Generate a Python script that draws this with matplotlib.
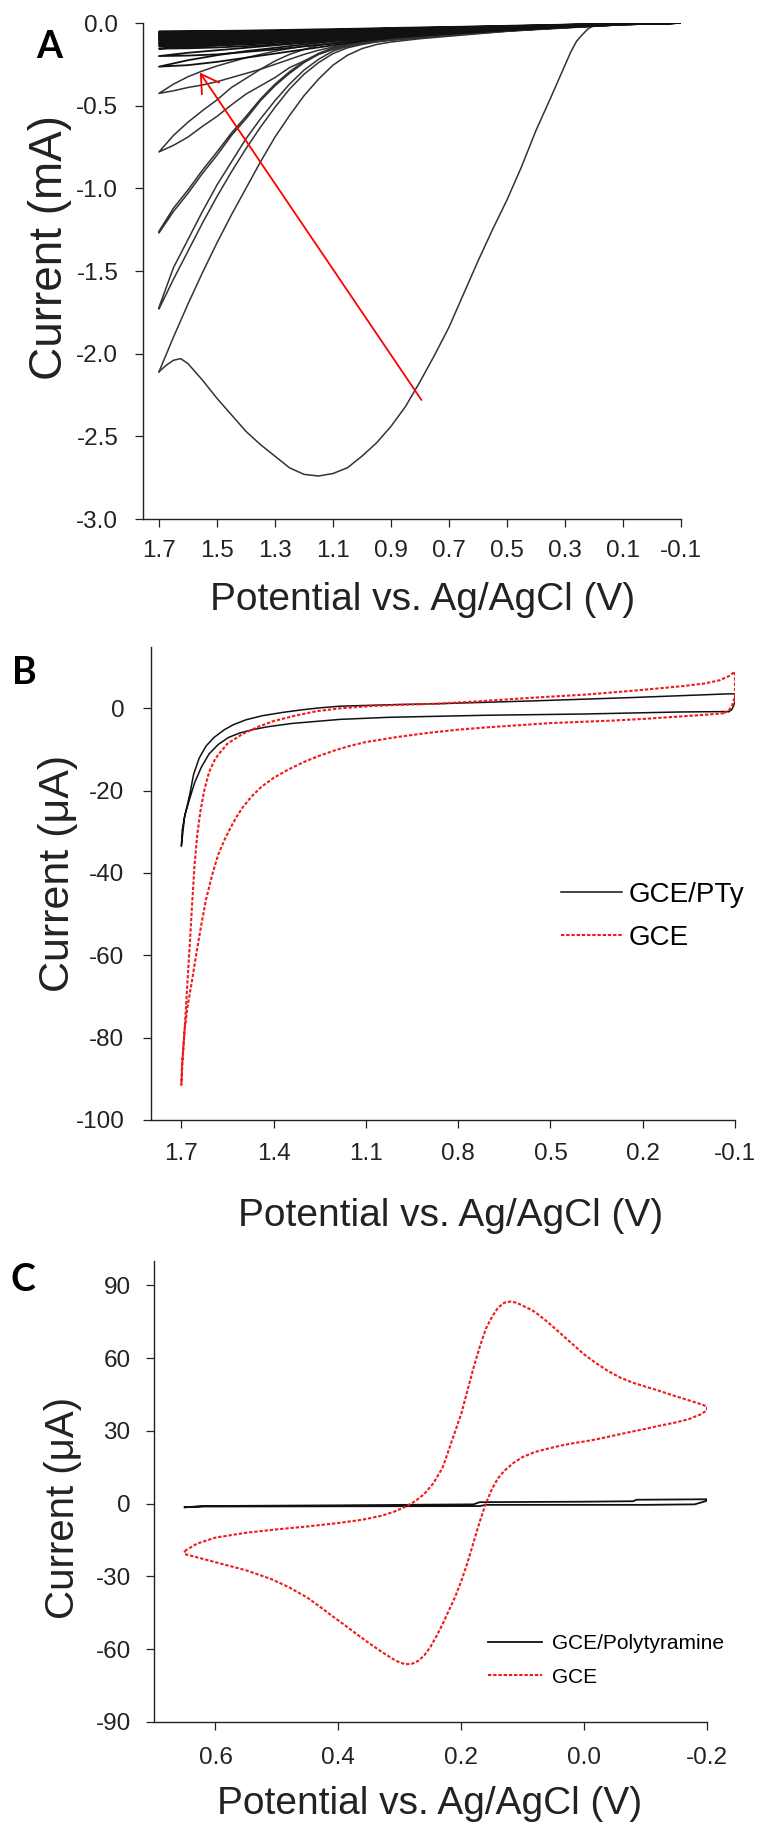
import matplotlib
matplotlib.use("Agg")
import matplotlib.pyplot as plt

plt.rcParams["font.family"] = ["Liberation Sans", "DejaVu Sans"]
plt.rcParams["axes.unicode_minus"] = False

# ---------------- panel A: repeated electropolymerisation cycles (mA) ----------------
a_first_E = [-0.10, 0.10, 0.15, 0.18, 0.20, 0.22, 0.24, 0.26, 0.28, 0.30, 0.325, 0.35, 0.40,
             0.45, 0.50, 0.55, 0.60, 0.65, 0.70, 0.75, 0.80, 0.85, 0.90, 0.95, 1.00, 1.05,
             1.10, 1.15, 1.20, 1.25, 1.30, 1.35, 1.40, 1.45, 1.50, 1.55, 1.60, 1.625, 1.65,
             1.675, 1.70]
a_first_I = [0.0, 0.0, 0.0, -0.005, -0.015, -0.035, -0.07, -0.11, -0.175, -0.255, -0.355,
             -0.455, -0.65, -0.87, -1.07, -1.25, -1.44, -1.64, -1.84, -2.01, -2.17, -2.32,
             -2.44, -2.54, -2.62, -2.69, -2.725, -2.74, -2.73, -2.69, -2.62, -2.55, -2.47,
             -2.37, -2.27, -2.16, -2.06, -2.03, -2.04, -2.07, -2.11]

a_fine_E = [1.70, 1.65, 1.60, 1.55, 1.50, 1.45, 1.40, 1.35, 1.30, 1.25, 1.20, 1.15, 1.10,
            1.05, 1.00, 0.95, 0.90, 0.80, 0.70, 0.50, 0.30, 0.10, -0.10]
a_first_return = [-2.11, -1.90, -1.70, -1.51, -1.33, -1.16, -1.00, -0.84, -0.69, -0.56, -0.44,
                  -0.34, -0.255, -0.195, -0.155, -0.13, -0.115, -0.095, -0.08, -0.05, -0.025,
                  -0.01, 0.0]
a_fine_upper = [
    [-1.72, -1.48, -1.31, -1.14, -0.98, -0.84, -0.70, -0.58, -0.47, -0.37, -0.285, -0.22,
     -0.17, -0.14, -0.12, -0.107, -0.098, -0.085, -0.07, -0.047, -0.028, -0.01, 0.0],
    [-1.26, -1.12, -1.01, -0.89, -0.78, -0.665, -0.565, -0.46, -0.37, -0.295, -0.232, -0.184,
     -0.15, -0.13, -0.116, -0.106, -0.097, -0.083, -0.068, -0.046, -0.027, -0.01, 0.0],
    [-0.78, -0.68, -0.60, -0.53, -0.465, -0.39, -0.335, -0.28, -0.23, -0.19, -0.16, -0.135,
     -0.12, -0.11, -0.10, -0.093, -0.088, -0.078, -0.065, -0.043, -0.025, -0.008, 0.0],
    [-0.426, -0.37, -0.325, -0.29, -0.26, -0.235, -0.21, -0.19, -0.17, -0.155, -0.14, -0.13,
     -0.12, -0.11, -0.10, -0.092, -0.085, -0.075, -0.063, -0.042, -0.024, -0.008, 0.0],
]
a_fine_lower = [
    [-1.73, -1.55, -1.38, -1.21, -1.05, -0.90, -0.76, -0.63, -0.51, -0.40, -0.31, -0.24,
     -0.185, -0.15, -0.13, -0.115, -0.105, -0.09, -0.075, -0.05, -0.03, -0.01, 0.0],
    [-1.27, -1.14, -1.03, -0.91, -0.80, -0.68, -0.58, -0.47, -0.38, -0.305, -0.24, -0.19,
     -0.155, -0.135, -0.12, -0.11, -0.10, -0.085, -0.07, -0.047, -0.028, -0.01, 0.0],
    [-0.78, -0.74, -0.69, -0.625, -0.565, -0.495, -0.43, -0.38, -0.33, -0.27, -0.23, -0.19,
     -0.16, -0.14, -0.125, -0.112, -0.102, -0.087, -0.072, -0.047, -0.027, -0.009, 0.0],
    [-0.426, -0.41, -0.39, -0.375, -0.355, -0.33, -0.305, -0.28, -0.25, -0.22, -0.19, -0.165,
     -0.145, -0.128, -0.115, -0.104, -0.095, -0.082, -0.069, -0.045, -0.026, -0.009, 0.0],
]

a_coarse_E = [1.70, 1.60, 1.50, 1.40, 1.30, 1.20, 1.10, 1.00, 0.90, 0.70, 0.50, 0.30, 0.10, -0.10]
a_coarse_upper = [
    [-0.264, -0.225, -0.195, -0.17, -0.15, -0.13, -0.11, -0.095, -0.08, -0.06, -0.04, -0.022, -0.007, 0.0],
    [-0.20, -0.18, -0.165, -0.15, -0.135, -0.12, -0.105, -0.09, -0.077, -0.058, -0.039, -0.021, -0.007, 0.0],
    [-0.155, -0.145, -0.135, -0.125, -0.113, -0.102, -0.09, -0.078, -0.068, -0.052, -0.036, -0.02, -0.006, 0.0],
    [-0.14, -0.133, -0.125, -0.116, -0.105, -0.095, -0.084, -0.073, -0.064, -0.049, -0.034, -0.019, -0.006, 0.0],
    [-0.13, -0.123, -0.116, -0.107, -0.098, -0.088, -0.078, -0.068, -0.06, -0.046, -0.032, -0.018, -0.006, 0.0],
    [-0.122, -0.116, -0.11, -0.102, -0.093, -0.084, -0.075, -0.065, -0.057, -0.044, -0.031, -0.017, -0.005, 0.0],
    [-0.115, -0.109, -0.103, -0.096, -0.088, -0.08, -0.071, -0.062, -0.054, -0.042, -0.03, -0.017, -0.005, 0.0],
    [-0.107, -0.102, -0.097, -0.09, -0.083, -0.075, -0.067, -0.059, -0.052, -0.04, -0.028, -0.016, -0.005, 0.0],
    [-0.10, -0.095, -0.09, -0.084, -0.077, -0.07, -0.063, -0.056, -0.049, -0.038, -0.027, -0.015, -0.005, 0.0],
    [-0.094, -0.09, -0.085, -0.08, -0.073, -0.066, -0.06, -0.053, -0.047, -0.036, -0.026, -0.014, -0.004, 0.0],
    [-0.088, -0.084, -0.08, -0.075, -0.069, -0.063, -0.057, -0.051, -0.045, -0.035, -0.025, -0.014, -0.004, 0.0],
    [-0.082, -0.079, -0.075, -0.07, -0.065, -0.06, -0.054, -0.048, -0.043, -0.033, -0.024, -0.013, -0.004, 0.0],
    [-0.077, -0.074, -0.07, -0.066, -0.061, -0.056, -0.051, -0.046, -0.041, -0.032, -0.023, -0.013, -0.004, 0.0],
    [-0.072, -0.069, -0.066, -0.062, -0.058, -0.053, -0.048, -0.043, -0.039, -0.03, -0.022, -0.012, -0.004, 0.0],
    [-0.067, -0.064, -0.061, -0.058, -0.054, -0.05, -0.046, -0.041, -0.037, -0.029, -0.021, -0.012, -0.004, 0.0],
    [-0.062, -0.06, -0.058, -0.055, -0.051, -0.047, -0.043, -0.039, -0.035, -0.027, -0.02, -0.011, -0.003, 0.0],
    [-0.058, -0.056, -0.054, -0.051, -0.048, -0.045, -0.041, -0.037, -0.033, -0.026, -0.019, -0.011, -0.003, 0.0],
    [-0.052, -0.05, -0.048, -0.046, -0.043, -0.04, -0.037, -0.034, -0.03, -0.024, -0.017, -0.01, -0.003, 0.0],
]
a_coarse_lower = [
    [-0.264, -0.255, -0.235, -0.21, -0.185, -0.16, -0.135, -0.11, -0.09, -0.066, -0.044, -0.025, -0.008, 0.0],
    [-0.20, -0.197, -0.19, -0.175, -0.16, -0.142, -0.125, -0.105, -0.088, -0.064, -0.043, -0.024, -0.008, 0.0],
    [-0.155, -0.153, -0.148, -0.14, -0.13, -0.118, -0.105, -0.09, -0.077, -0.058, -0.04, -0.022, -0.007, 0.0],
    [-0.14, -0.139, -0.136, -0.13, -0.121, -0.11, -0.098, -0.085, -0.073, -0.055, -0.038, -0.021, -0.007, 0.0],
    [-0.13, -0.129, -0.126, -0.12, -0.112, -0.102, -0.092, -0.08, -0.07, -0.053, -0.036, -0.02, -0.006, 0.0],
    [-0.122, -0.121, -0.119, -0.113, -0.106, -0.097, -0.087, -0.076, -0.066, -0.05, -0.035, -0.02, -0.006, 0.0],
    [-0.115, -0.114, -0.111, -0.106, -0.099, -0.091, -0.082, -0.072, -0.063, -0.048, -0.033, -0.019, -0.006, 0.0],
    [-0.107, -0.106, -0.104, -0.1, -0.093, -0.086, -0.077, -0.068, -0.06, -0.046, -0.032, -0.018, -0.006, 0.0],
    [-0.10, -0.099, -0.097, -0.093, -0.087, -0.08, -0.072, -0.064, -0.056, -0.043, -0.03, -0.017, -0.005, 0.0],
    [-0.094, -0.093, -0.091, -0.088, -0.082, -0.075, -0.068, -0.061, -0.053, -0.041, -0.029, -0.016, -0.005, 0.0],
    [-0.088, -0.087, -0.085, -0.082, -0.077, -0.071, -0.065, -0.058, -0.051, -0.04, -0.028, -0.016, -0.005, 0.0],
    [-0.082, -0.081, -0.08, -0.077, -0.072, -0.067, -0.061, -0.055, -0.048, -0.038, -0.027, -0.015, -0.005, 0.0],
    [-0.077, -0.076, -0.075, -0.072, -0.068, -0.063, -0.058, -0.052, -0.046, -0.036, -0.026, -0.015, -0.005, 0.0],
    [-0.072, -0.071, -0.07, -0.067, -0.064, -0.06, -0.055, -0.05, -0.044, -0.034, -0.025, -0.014, -0.004, 0.0],
    [-0.067, -0.066, -0.065, -0.063, -0.06, -0.056, -0.052, -0.047, -0.042, -0.033, -0.024, -0.014, -0.004, 0.0],
    [-0.062, -0.062, -0.061, -0.059, -0.056, -0.053, -0.049, -0.044, -0.04, -0.031, -0.023, -0.013, -0.004, 0.0],
    [-0.058, -0.058, -0.057, -0.055, -0.053, -0.05, -0.046, -0.042, -0.038, -0.03, -0.022, -0.013, -0.004, 0.0],
    [-0.052, -0.052, -0.051, -0.05, -0.048, -0.045, -0.042, -0.038, -0.034, -0.027, -0.02, -0.012, -0.004, 0.0],
]
a_arrow_tail = (0.795, -2.28)
a_arrow_head = (1.559, -0.30)

a_xticks = [1.7, 1.5, 1.3, 1.1, 0.9, 0.7, 0.5, 0.3, 0.1, -0.1]
a_xlabels = ["1.7", "1.5", "1.3", "1.1", "0.9", "0.7", "0.5", "0.3", "0.1", "-0.1"]
a_yticks = [0.0, -0.5, -1.0, -1.5, -2.0, -2.5, -3.0]
a_ylabels = ["0.0", "-0.5", "-1.0", "-1.5", "-2.0", "-2.5", "-3.0"]

# ---------------- panel B: blank electrolyte CVs (uA) ----------------
b_pty_E = [-0.08, 0.078, 0.394, 0.71, 1.026, 1.184, 1.342, 1.42, 1.468, 1.51, 1.547, 1.58,
           1.61, 1.635, 1.657, 1.675, 1.689, 1.70,
           1.697, 1.69, 1.682, 1.673, 1.66, 1.642, 1.62, 1.594, 1.56, 1.531, 1.49, 1.436,
           1.37, 1.31, 1.25, 1.184, 1.0, 0.868, 0.552, 0.236, -0.08, -0.10, -0.10, -0.09,
           -0.08]
b_pty_I = [-0.8, -0.9, -1.4, -1.7, -2.2, -2.7, -3.7, -4.5, -5.2, -6.0, -7.1, -8.8,
           -11.1, -14.3, -18.1, -22.5, -26.0, -33.5,
           -29.5, -26.5, -24.0, -21.0, -16.0, -12.1, -9.2, -7.1, -5.2, -4.0, -2.8, -1.8,
           -1.0, -0.4, 0.1, 0.5, 0.9, 1.1, 1.8, 2.6, 3.5, 3.5, 1.5, -0.3,
           -0.8]
b_gce_E = [-0.064, 0.0, 0.1, 0.2, 0.3, 0.4, 0.5, 0.6, 0.7, 0.8, 0.9, 1.0, 1.1, 1.15, 1.2,
           1.25, 1.3, 1.35, 1.4, 1.44, 1.47, 1.5, 1.52, 1.54, 1.56, 1.58, 1.6, 1.62, 1.635,
           1.65, 1.665, 1.68, 1.69, 1.696, 1.70,
           1.698, 1.695, 1.689, 1.681, 1.673, 1.665, 1.657, 1.648, 1.638, 1.626, 1.61, 1.59,
           1.578, 1.55, 1.50, 1.45, 1.40, 1.33, 1.26, 1.18, 1.09, 1.0, 0.87, 0.71, 0.55,
           0.39, 0.24, 0.08, 0.0, -0.05, -0.08, -0.10, -0.10, -0.09, -0.08, -0.064]
b_gce_I = [-1.2, -1.6, -2.1, -2.6, -3.0, -3.3, -3.6, -4.1, -4.6, -5.2, -6.0, -7.0, -8.2,
           -9.1, -10.2, -11.5, -13.0, -14.8, -16.9, -19.1, -21.3, -24.0, -26.3, -29.0, -32.0,
           -35.5, -40.5, -46.5, -52.5, -59.0, -66.0, -72.5, -78.5, -85.0, -91.5,
           -87.0, -84.0, -77.7, -67.5, -57.8, -47.5, -37.9, -30.5, -25.0, -20.1, -15.5, -12.3,
           -11.1, -8.6, -6.2, -4.5, -3.1, -1.8, -0.7, 0.0, 0.5, 0.8, 1.1, 1.8, 2.6,
           3.3, 4.2, 5.3, 6.0, 6.8, 7.8, 8.9, 3.0, 0.5, -0.5, -1.2]

b_xticks = [1.7, 1.4, 1.1, 0.8, 0.5, 0.2, -0.1]
b_xlabels = ["1.7", "1.4", "1.1", "0.8", "0.5", "0.2", "-0.1"]
b_yticks = [0, -20, -40, -60, -80, -100]
b_ylabels = ["0", "-20", "-40", "-60", "-80", "-100"]

# ---------------- panel C: ferricyanide probe CVs (uA) ----------------
c_gce_E = [0.65, 0.63, 0.60, 0.55, 0.50, 0.45, 0.40, 0.36, 0.33, 0.31, 0.29, 0.275, 0.26,
           0.245, 0.23, 0.215, 0.20, 0.19, 0.18, 0.17, 0.16, 0.15, 0.14, 0.13, 0.12, 0.11,
           0.10, 0.09, 0.08, 0.06, 0.04, 0.02, 0.00, -0.02, -0.04, -0.06, -0.08, -0.10,
           -0.12, -0.14, -0.16, -0.18, -0.19, -0.20,
           -0.20, -0.19, -0.17, -0.15, -0.12, -0.10, -0.08, -0.06, -0.04, -0.02, 0.00, 0.02,
           0.04, 0.06, 0.08, 0.10, 0.115, 0.13, 0.14, 0.15, 0.16, 0.17, 0.18, 0.19, 0.20,
           0.21, 0.22, 0.23, 0.24, 0.25, 0.26, 0.27, 0.28, 0.29, 0.30, 0.31, 0.33, 0.35,
           0.37, 0.39, 0.41, 0.43, 0.45, 0.48, 0.51, 0.55, 0.59, 0.62, 0.65, 0.65]
c_gce_I = [-19.5, -16.5, -14.0, -12.0, -10.6, -9.4, -8.0, -6.6, -5.0, -3.4, -1.2, 1.0, 4.0,
           8.5, 15.0, 26.0, 37.0, 46.5, 56.0, 64.5, 72.0, 77.0, 80.8, 82.8, 83.3, 82.8,
           81.6, 80.4, 79.0, 75.0, 70.5, 66.0, 61.5, 57.8, 54.5, 51.8, 49.8, 48.2,
           46.7, 45.0, 43.4, 41.8, 41.0, 40.0,
           38.5, 36.8, 34.8, 33.5, 32.0, 30.8, 29.8, 28.7, 27.6, 26.5, 25.6, 24.8,
           23.8, 22.6, 21.3, 19.2, 16.8, 13.5, 10.5, 6.0, 0.0, -7.5, -16.0, -24.5, -32.0,
           -38.5, -44.0, -49.5, -54.5, -59.0, -62.5, -64.8, -66.0, -66.2, -65.5, -64.2, -61.0, -57.5,
           -53.8, -50.0, -46.3, -42.5, -38.8, -34.5, -31.0, -27.5, -24.8, -22.8, -20.8, -19.5]
c_pty_E = [0.65, 0.62, 0.40, 0.18, 0.17, 0.0, -0.08, -0.085, -0.20, -0.20, -0.18, -0.10,
           0.0, 0.16, 0.17, 0.40, 0.62, 0.65]
c_pty_I = [-1.5, -1.0, -0.7, -0.3, 0.6, 0.8, 1.0, 1.6, 1.8, 1.2, -0.3, -0.5,
           -0.5, -0.5, -1.0, -1.1, -1.2, -1.5]

c_xticks = [0.6, 0.4, 0.2, 0.0, -0.2]
c_xlabels = ["0.6", "0.4", "0.2", "0.0", "-0.2"]
c_yticks = [90, 60, 30, 0, -30, -60, -90]
c_ylabels = ["90", "60", "30", "0", "-30", "-60", "-90"]

# ---------------- layout ----------------
W, H = 762, 1827
fig = plt.figure(figsize=(W / 100, H / 100), dpi=100)
INK = "#222222"
RED = "#f01a1a"
DOTS = (0, (1.6, 0.9))


def axes_px(left, top, right, bottom):
    return fig.add_axes([left / W, 1 - bottom / H, (right - left) / W, (bottom - top) / H])


def style(ax, xpad, ypad):
    for side in ("top", "right"):
        ax.spines[side].set_visible(False)
    for side in ("left", "bottom"):
        ax.spines[side].set_linewidth(1.0)
        ax.spines[side].set_color(INK)
    ax.tick_params(direction="out", length=5.8, width=0.9, colors=INK, labelsize=17.5)
    ax.tick_params(axis="x", pad=xpad)
    ax.tick_params(axis="y", pad=ypad)


def text_px(x, y, s, **kw):
    fig.text(x / W, 1 - y / H, s, ha="center", va="center", **kw)


# A
ax = axes_px(143, 23, 681, 519)
ax.plot(a_first_E, a_first_I, color="#333333", lw=1.1)
ax.plot(a_fine_E, a_first_return, color="#333333", lw=1.1)
for up, lo in zip(a_fine_upper, a_fine_lower):
    ax.plot(a_fine_E[::-1] + a_fine_E, lo[::-1] + up, color="#333333", lw=1.1)
for up, lo in zip(a_coarse_upper, a_coarse_lower):
    ax.plot(a_coarse_E[::-1] + a_coarse_E, lo[::-1] + up, color="#111111", lw=1.3)
ax.annotate("", xy=a_arrow_head, xytext=a_arrow_tail,
            arrowprops=dict(arrowstyle="->,head_length=0.5,head_width=0.3",
                            color="#ff0000", lw=1.3, mutation_scale=25,
                            shrinkA=0, shrinkB=0))
ax.set_xlim(1.755, -0.1)
ax.set_ylim(-3.0, 0.0)
ax.set_xticks(a_xticks, a_xlabels)
ax.set_yticks(a_yticks, a_ylabels)
style(ax, 9.5, 12)
text_px(50, 248, "Current (mA)", rotation=90, fontsize=33, color=INK)
text_px(423, 600, "Potential vs. Ag/AgCl (V)", fontsize=28, color=INK)
text_px(49, 47, "A", fontsize=27, fontweight="bold", family=["Lato", "DejaVu Sans"])

# B
ax = axes_px(150.6, 646.5, 735, 1120)
ax.plot(b_pty_E, b_pty_I, color="#111111", lw=1.1, label="GCE/PTy")
ax.plot(b_gce_E, b_gce_I, color=RED, lw=1.5, ls=DOTS, label="GCE")
ax.set_xlim(1.8, -0.1)
ax.set_ylim(-100, 15)
ax.set_xticks(b_xticks, b_xlabels)
ax.set_yticks(b_yticks, b_ylabels)
style(ax, 11, 13)
ax.legend(loc="center left", bbox_to_anchor=(561 / W, 1 - 916.5 / H),
          bbox_transform=fig.transFigure, frameon=False, fontsize=20,
          handlelength=2.2, handletextpad=0.25, labelspacing=0.6,
          borderpad=0, borderaxespad=0)
text_px(58, 873, "Current (μA)", rotation=90, fontsize=31, color=INK)
text_px(451, 1216, "Potential vs. Ag/AgCl (V)", fontsize=28, color=INK)
text_px(24, 673, "B", fontsize=27, fontweight="bold", family=["Lato", "DejaVu Sans"])

# C
ax = axes_px(154, 1261, 707, 1722)
ax.plot(c_pty_E, c_pty_I, color="#111111", lw=1.3, label="GCE/Polytyramine")
ax.plot(c_gce_E, c_gce_I, color=RED, lw=1.5, ls=DOTS, label="GCE")
ax.set_xlim(0.7, -0.2)
ax.set_ylim(-90, 100)
ax.set_xticks(c_xticks, c_xlabels)
ax.set_yticks(c_yticks, c_ylabels)
style(ax, 12, 11)
ax.legend(loc="center left", bbox_to_anchor=(488 / W, 1 - 1660.5 / H),
          bbox_transform=fig.transFigure, frameon=False, fontsize=15,
          handlelength=2.6, handletextpad=0.45, labelspacing=0.7,
          borderpad=0, borderaxespad=0)
text_px(63, 1508, "Current (μA)", rotation=90, fontsize=29, color=INK)
text_px(430, 1804, "Potential vs. Ag/AgCl (V)", fontsize=28, color=INK)
text_px(23, 1280, "C", fontsize=27, fontweight="bold", family=["Lato", "DejaVu Sans"])

fig.savefig("out.png", dpi=100, facecolor="white")
